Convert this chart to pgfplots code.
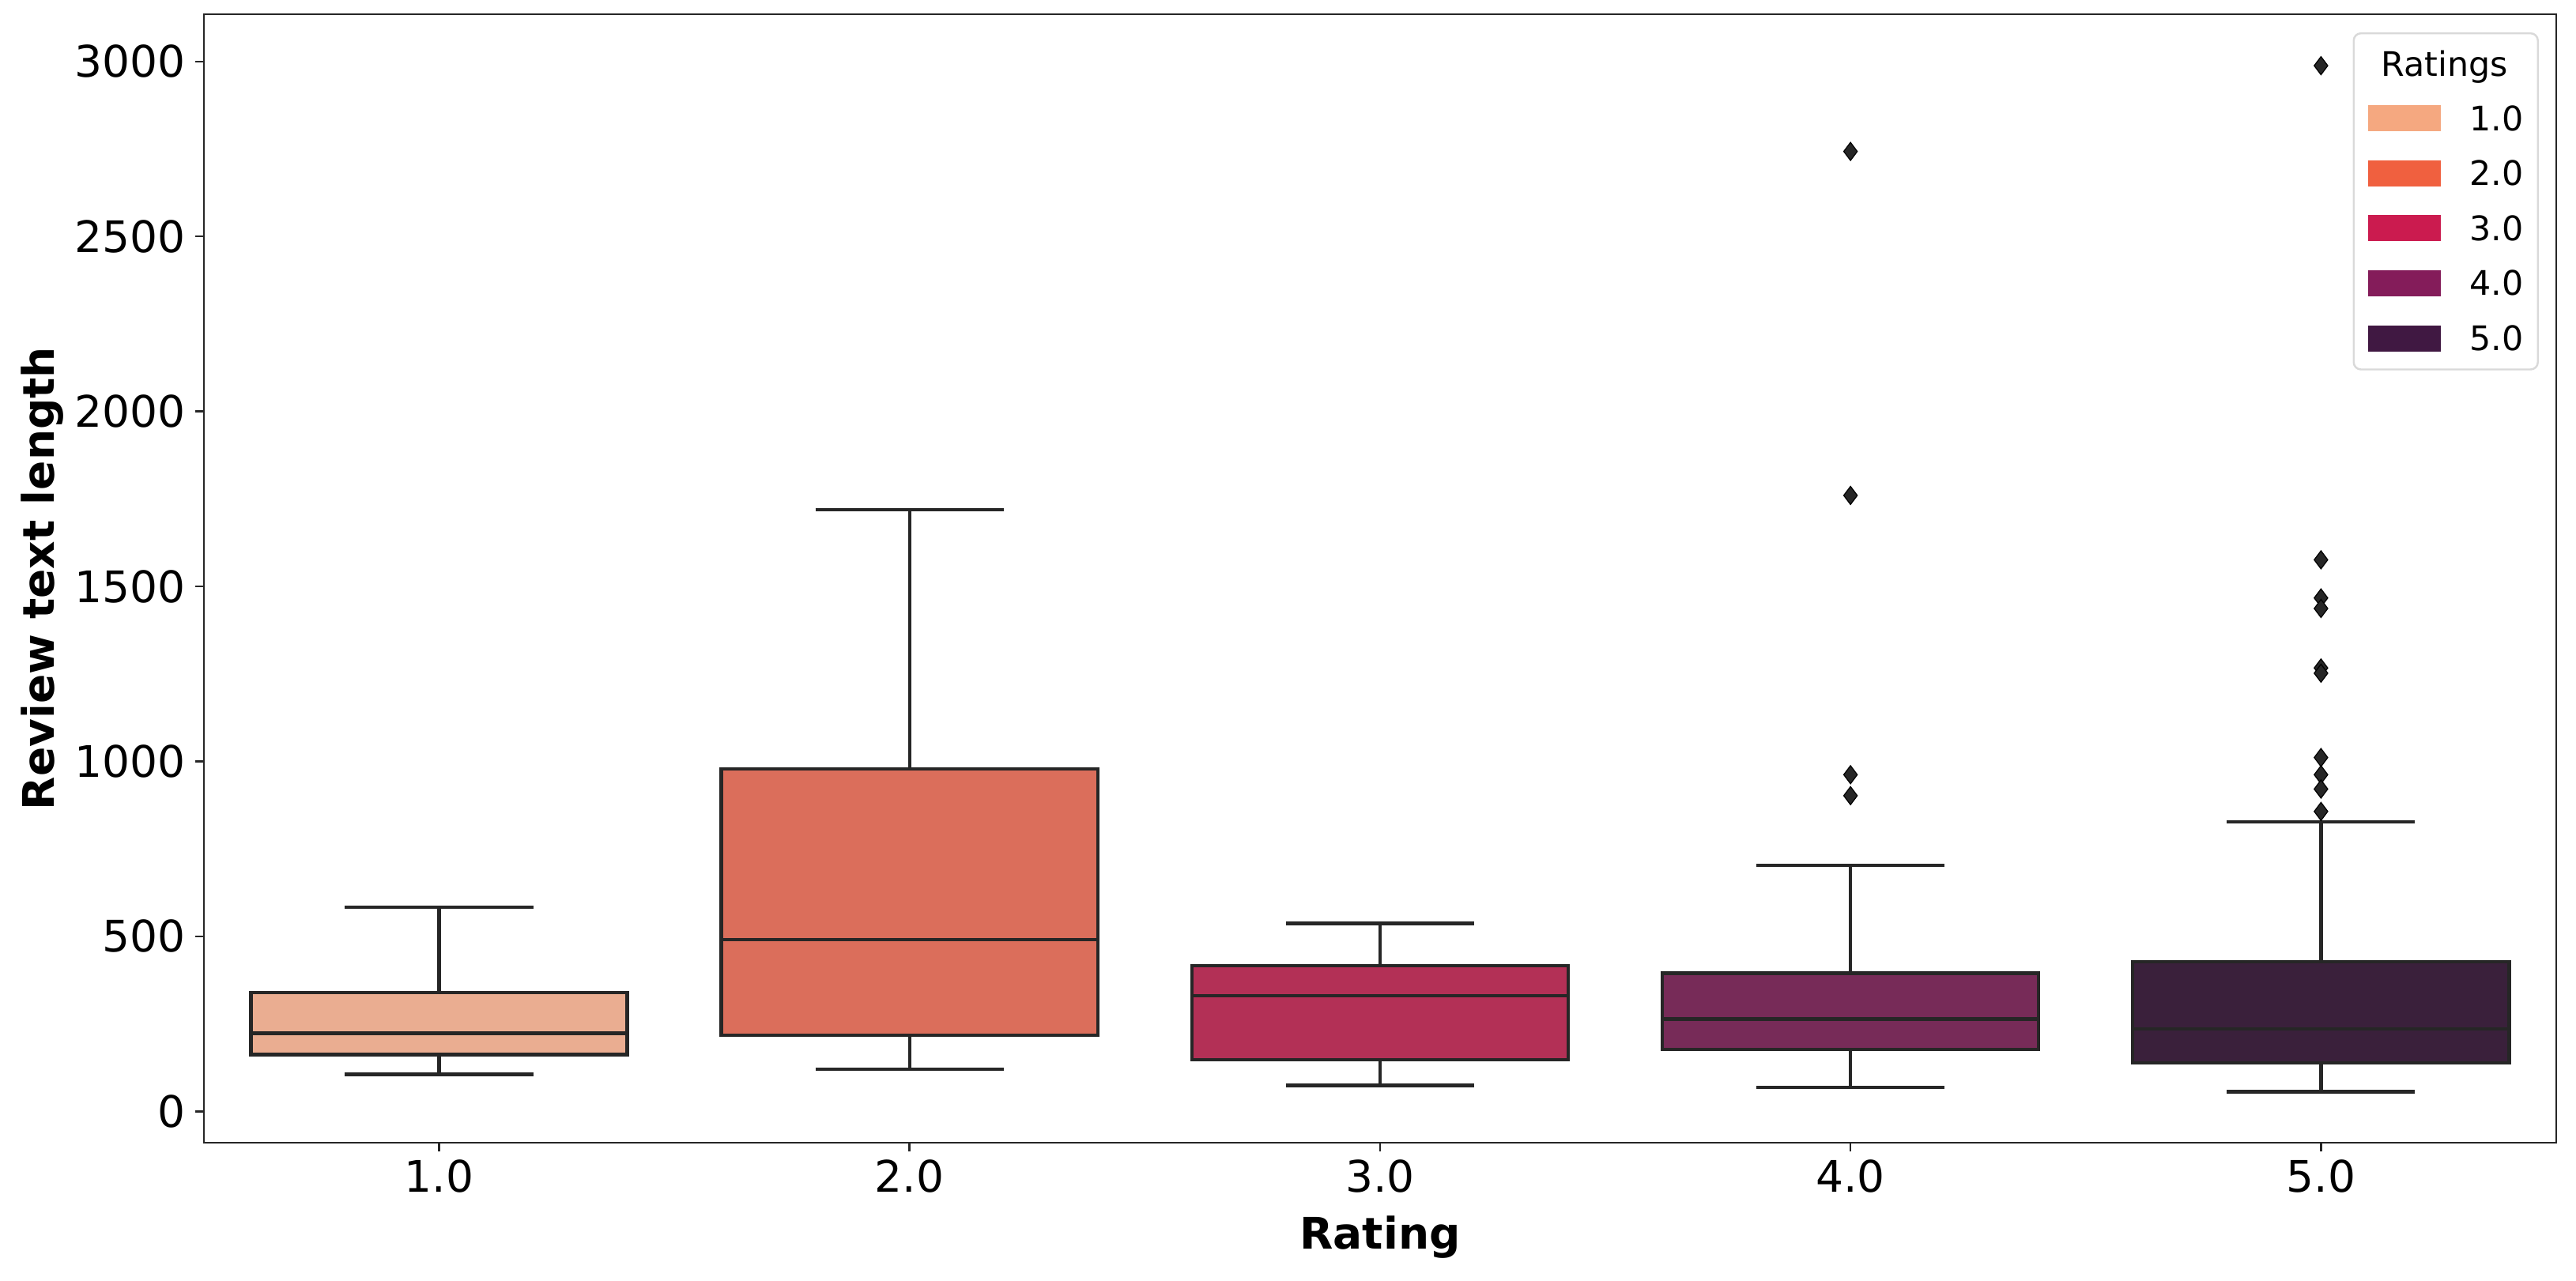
\documentclass[border=0pt]{standalone}
\usepackage{fontspec}
\setmainfont{DejaVu Sans}
\usepackage{pgfplots}
\pgfplotsset{compat=1.18}

% box fills (desaturated) and legend patches (full colour)
\definecolor{box1}{HTML}{EAAD91}
\definecolor{box2}{HTML}{DB6E5B}
\definecolor{box3}{HTML}{B33056}
\definecolor{box4}{HTML}{772B58}
\definecolor{box5}{HTML}{3A203B}
\definecolor{leg1}{HTML}{F5A880}
\definecolor{leg2}{HTML}{F0603F}
\definecolor{leg3}{HTML}{CB1B4F}
\definecolor{leg4}{HTML}{841C5A}
\definecolor{leg5}{HTML}{401842}
\definecolor{edge}{HTML}{262626}

\pgfplotsset{
  boxfill/.style={fill=#1, draw=edge, line width=1.4pt, forget plot},
  boxline/.style={draw=edge, line width=1.4pt, forget plot, mark=none},
  outl/.style={only marks, forget plot, mark=diamond*, mark size=3.75pt,
    mark options={draw=none, fill=edge}},
}

\begin{document}
\begin{tikzpicture}
\begin{axis}[
  scale only axis, width=974pt, height=467.4pt,
  xmin=-0.5, xmax=4.5, ymin=-90, ymax=3135,
  unbounded coords=jump,
  xtick={0,1,2,3,4}, xticklabels={1.0,2.0,3.0,4.0,5.0},
  ytick={0,500,...,3000},
  scaled y ticks=false,
  /pgf/number format/assume math mode=true,
  /pgf/number format/1000 sep={},
  tick pos=left, tick align=outside, major tick length=3.5pt,
  tick style={line width=0.8pt, edge},
  axis line style={line width=0.8pt, edge},
  ticklabel style={font=\fontsize{18}{21.6}\selectfont},
  xticklabel style={inner sep=3.3pt},
  yticklabel style={inner sep=4pt},
  xlabel={Rating}, ylabel={Review text length},
  label style={font=\fontsize{18}{21.6}\selectfont\bfseries},
  xlabel style={at={(axis description cs:0.5,-0.0834)}, anchor=center},
  ylabel style={at={(axis description cs:-0.0687,0.5)}, anchor=center},
  legend style={at={(1,1)}, xshift=-7.2pt, yshift=-7.5pt, anchor=north east,
    draw=black!15, line width=0.8pt, rounded corners=3pt, fill=white,
    font=\fontsize{14}{16.8}\selectfont,
    inner xsep=6pt, inner ysep=7.5pt, row sep=12pt, column sep=12pt,
    nodes={inner sep=0pt, text height=10.2pt, text depth=0pt}},
  legend cell align=left,
  legend image code/.code={\path[#1, draw=none, sharp corners]
    (0pt,-5.4pt) rectangle (30pt,5.4pt);},
]

% Rating 1.0: whiskers 106/583, quartiles 162/339, median 223
\addplot[boxfill=box1] coordinates {(-0.4,162) (0.4,162) (0.4,339) (-0.4,339)} --cycle;
\addplot[boxline] coordinates {(-0.4,223) (0.4,223) (0,nan)
  (0,339) (0,583) (0,nan) (-0.2,583) (0.2,583) (0,nan)
  (0,162) (0,106) (0,nan) (-0.2,106) (0.2,106)};

% Rating 2.0: whiskers 121/1720, quartiles 218/978, median 490
\addplot[boxfill=box2] coordinates {(0.6,218) (1.4,218) (1.4,978) (0.6,978)} --cycle;
\addplot[boxline] coordinates {(0.6,490) (1.4,490) (1,nan)
  (1,978) (1,1720) (1,nan) (0.8,1720) (1.2,1720) (1,nan)
  (1,218) (1,121) (1,nan) (0.8,121) (1.2,121)};

% Rating 3.0: whiskers 74/537, quartiles 147/417, median 330
\addplot[boxfill=box3] coordinates {(1.6,147) (2.4,147) (2.4,417) (1.6,417)} --cycle;
\addplot[boxline] coordinates {(1.6,330) (2.4,330) (2,nan)
  (2,417) (2,537) (2,nan) (1.8,537) (2.2,537) (2,nan)
  (2,147) (2,74) (2,nan) (1.8,74) (2.2,74)};

% Rating 4.0: whiskers 69/703, quartiles 177/395, median 264
\addplot[boxfill=box4] coordinates {(2.6,177) (3.4,177) (3.4,395) (2.6,395)} --cycle;
\addplot[boxline] coordinates {(2.6,264) (3.4,264) (3,nan)
  (3,395) (3,703) (3,nan) (2.8,703) (3.2,703) (3,nan)
  (3,177) (3,69) (3,nan) (2.8,69) (3.2,69)};
\addplot[outl] coordinates {(3,2743) (3,1760) (3,962) (3,902)};

% Rating 5.0: whiskers 56/828, quartiles 138/427, median 235
\addplot[boxfill=box5] coordinates {(3.6,138) (4.4,138) (4.4,427) (3.6,427)} --cycle;
\addplot[boxline] coordinates {(3.6,235) (4.4,235) (4,nan)
  (4,427) (4,828) (4,nan) (3.8,828) (4.2,828) (4,nan)
  (4,138) (4,56) (4,nan) (3.8,56) (4.2,56)};
\addplot[outl] coordinates {(4,2988) (4,1576) (4,1467) (4,1437) (4,1267)
  (4,1252) (4,1011) (4,962) (4,921) (4,857)};

\addlegendimage{empty legend}\addlegendentry{\hspace*{-36.5pt}Ratings}
\addlegendimage{fill=leg1}\addlegendentry{1.0}
\addlegendimage{fill=leg2}\addlegendentry{2.0}
\addlegendimage{fill=leg3}\addlegendentry{3.0}
\addlegendimage{fill=leg4}\addlegendentry{4.0}
\addlegendimage{fill=leg5}\addlegendentry{5.0}
\end{axis}
\pgfresetboundingbox
\path ([xshift=-84.4pt,yshift=-57pt]current axis.south west)
  rectangle ([xshift=8.2pt,yshift=5.9pt]current axis.north east);
\end{tikzpicture}
\end{document}
